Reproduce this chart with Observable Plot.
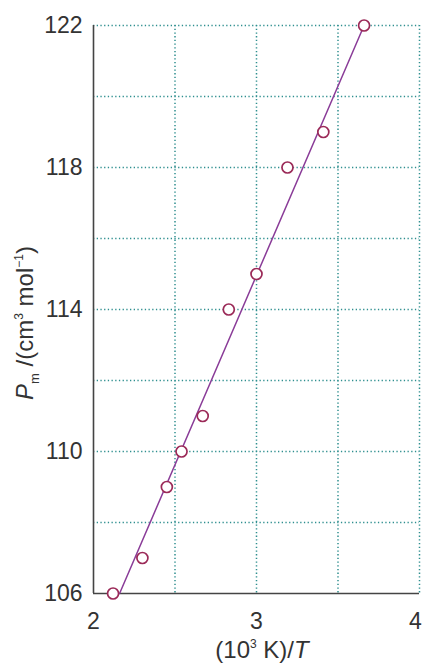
<!DOCTYPE html>
<html>
<head>
<meta charset="utf-8">
<script src="https://cdn.jsdelivr.net/npm/d3@7"></script>
<script src="https://cdn.jsdelivr.net/npm/@observablehq/plot@0.6"></script>
<style>
  html, body { margin: 0; padding: 0; background: #fff; }
  #chart svg { display: block; }
</style>
</head>
<body>
<div id="chart"></div>
<script>
// Data
const invT = [2.12, 2.30, 2.45, 2.54, 2.67, 2.83, 3.00, 3.19, 3.41, 3.66];
const Pm   = [106, 107, 109, 110, 111, 114, 115, 118, 119, 122];
// fitted straight line (end points)
const fitX = [2.16, 3.66];
const fitY = [106, 122];
// ticks and grid
const xTicks = [2, 3, 4];
const yTicks = [106, 110, 114, 118, 122];
const xGrid = [2.5, 3, 3.5, 4];
const yGrid = [108, 110, 112, 114, 116, 118, 120, 122];

const points = invT.map((x, i) => ({x, y: Pm[i]}));
const fit = fitX.map((x, i) => ({x, y: fitY[i]}));

const gridColor = "#2f8f8f";
const textColor = "#333";
const font = "'Liberation Sans', Arial, sans-serif";

const chart = Plot.plot({
  width: 424,
  height: 663,
  marginLeft: 93,
  marginRight: 5,
  marginTop: 25,
  marginBottom: 70,
  style: {fontFamily: font, color: textColor, background: "#fff", overflow: "visible"},
  x: {domain: [2, 4]},
  y: {domain: [106, 122]},
  marks: [
    Plot.ruleX(xGrid, {stroke: gridColor, strokeWidth: 1.5, strokeDasharray: "1.3,2.4"}),
    Plot.ruleY(yGrid, {stroke: gridColor, strokeWidth: 1.5, strokeDasharray: "1.3,2.4"}),
    Plot.ruleX([2], {stroke: "#444", strokeWidth: 1.6}),
    Plot.ruleY([106], {stroke: "#444", strokeWidth: 1.6}),
    Plot.line(fit, {x: "x", y: "y", stroke: "#8a3c98", strokeWidth: 1.5}),
    Plot.dot(points, {x: "x", y: "y", r: 5.5, stroke: "#9b2a58", strokeWidth: 1.7, fill: "#fff"}),
    Plot.axisX({ticks: xTicks, tickSize: 0, tickPadding: 19, label: null, fontSize: 23, tickFormat: d => String(d)}),
    Plot.axisY({ticks: yTicks, tickSize: 0, tickPadding: 11, label: null, fontSize: 23, tickFormat: d => String(d)})
  ]
});

document.getElementById("chart").appendChild(chart);

const svg = d3.select(chart);
// nudge the last x tick label inside the picture, as in the reference
svg.selectAll("g[aria-label='x-axis tick label'] text")
  .filter(function () { return this.textContent === "4"; })
  .attr("dx", -4);

// y-axis label
const yl = svg.append("text")
  .attr("transform", "translate(33,323) rotate(-90)")
  .attr("text-anchor", "middle")
  .attr("fill", textColor)
  .attr("font-family", font)
  .attr("font-size", 24);
yl.append("tspan").attr("font-style", "italic").text("P");
yl.append("tspan").attr("font-size", 13).attr("dy", 6).text("m");
yl.append("tspan").attr("dy", -6).text(" /(cm");
yl.append("tspan").attr("font-size", 12).attr("dy", -10).text("3");
yl.append("tspan").attr("dy", 10).text(" mol");
yl.append("tspan").attr("font-size", 12).attr("dy", -10).text("−1");
yl.append("tspan").attr("dy", 10).text(")");

// x-axis label
const xl = svg.append("text")
  .attr("x", 262)
  .attr("y", 658)
  .attr("text-anchor", "middle")
  .attr("fill", textColor)
  .attr("font-family", font)
  .attr("font-size", 24);
xl.append("tspan").text("(10");
xl.append("tspan").attr("font-size", 12).attr("dy", -10).text("3");
xl.append("tspan").attr("dy", 10).text(" K)/");
xl.append("tspan").attr("font-style", "italic").text("T");
</script>
</body>
</html>
